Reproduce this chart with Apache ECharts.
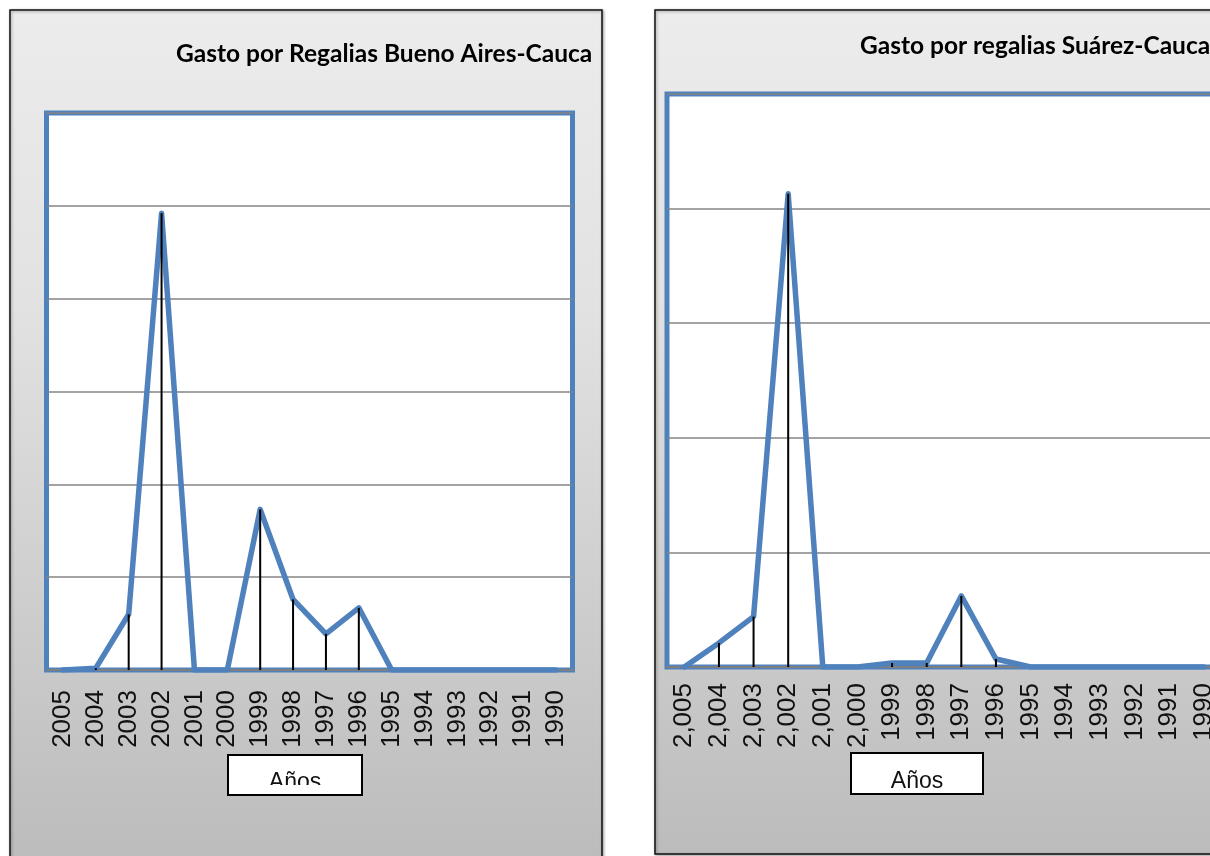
<!DOCTYPE html>
<html>
<head>
<meta charset="utf-8">
<script src="https://cdn.jsdelivr.net/npm/echarts@6/dist/echarts.min.js"></script>
<style>
html,body{margin:0;padding:0;background:#fff;}
#c{width:1210px;height:856px;}
</style>
</head>
<body>
<div id="c"></div>
<script>
// ---- Data ----
const yearsLeft = ['2005','2004','2003','2002','2001','2000','1999','1998','1997','1996','1995','1994','1993','1992','1991','1990'];
const valuesLeft = [0, 0.02, 0.60, 4.92, 0, 0, 1.73, 0.76, 0.39, 0.67, 0, 0, 0, 0, 0, 0];
const yearsRight = ['2,005','2,004','2,003','2,002','2,001','2,000','1999','1998','1997','1996','1995','1994','1993','1992','1991','1990'];
const valuesRight = [0, 0.21, 0.44, 4.13, 0, 0, 0.035, 0.035, 0.62, 0.07, 0, 0, 0, 0, 0, 0];
const titleLeft = 'Gasto por Regalias Bueno Aires-Cauca';
const titleRight = 'Gasto por regalias Suárez-Cauca';
const axisName = 'Años';

const BLUE = '#4F81BD';
const chart = echarts.init(document.getElementById('c'), null, {renderer: 'canvas'});

function panelRect(x, y, w, h) {
  return {
    type: 'rect', z: -20,
    shape: {x: x, y: y, width: w, height: h},
    style: {
      fill: new echarts.graphic.LinearGradient(0, 0, 0, 1, [
        {offset: 0, color: '#ececec'},
        {offset: 0.35, color: '#e2e2e2'},
        {offset: 1, color: '#bcbcbc'}
      ]),
      stroke: '#111', lineWidth: 1.5,
      shadowBlur: 3, shadowColor: 'rgba(0,0,0,0.35)', shadowOffsetX: 1, shadowOffsetY: 1
    }
  };
}
function nameBox(x, y, w, h, tx, ty, clip) {
  const els = [
    {type: 'rect', z: 20, shape: {x: x, y: y, width: w, height: h},
     style: {fill: '#fff', stroke: '#000', lineWidth: 2}},
    {type: 'text', z: 21, x: tx, y: ty,
     style: {text: axisName, font: '23px "Liberation Sans", Arial, sans-serif', fill: '#111',
             textAlign: 'center', textVerticalAlign: 'middle'}}
  ];
  if (clip) {
    els.push({type: 'rect', z: 22, shape: {x: x + 2, y: clip, width: w - 4, height: y + h - 1 - clip},
      style: {fill: '#fff'}});
  }
  return els;
}

function xAxisCfg(idx, data, margin) {
  return {
    type: 'category', gridIndex: idx, data: data, boundaryGap: true,
    axisLine: {show: true, lineStyle: {color: '#7f7f7f', width: 2}},
    axisTick: {show: false},
    axisLabel: {rotate: 90, margin: margin, interval: 0, color: '#111',
      fontFamily: '"Liberation Sans", Arial, sans-serif', fontSize: 26},
    splitLine: {show: false}
  };
}
function yAxisCfg(idx, max) {
  return {
    type: 'value', gridIndex: idx, min: 0, max: max, interval: 1,
    axisLine: {show: false}, axisTick: {show: false}, axisLabel: {show: false},
    splitLine: {show: true, lineStyle: {color: '#858585', width: 1.5}}
  };
}
function lineSeries(idx, data) {
  return {
    type: 'line', xAxisIndex: idx, yAxisIndex: idx, data: data,
    showSymbol: false, symbol: 'none', z: 2,
    lineStyle: {color: BLUE, width: 5.5, join: 'round', cap: 'round'}
  };
}
function dropSeries(idx, data) {
  return {
    type: 'bar', xAxisIndex: idx, yAxisIndex: idx, data: data,
    barWidth: 2, z: 3, silent: true,
    itemStyle: {color: '#000'}
  };
}

const titleFont = {fontFamily: 'Lato, "Open Sans", sans-serif', fontWeight: 'bold', fontSize: 24.5, color: '#000'};
const option = {
  animation: false,
  backgroundColor: '#fff',
  title: [
    {text: titleLeft, left: 176, top: 42, padding: 0, textStyle: titleFont},
    {text: titleRight, left: 860, top: 34, padding: 0, textStyle: titleFont}
  ],
  grid: [
    {left: 46.5, top: 113, width: 526, height: 557, show: true, backgroundColor: '#fff',
     borderColor: BLUE, borderWidth: 5, outerBoundsMode: 'none', containLabel: false},
    {left: 667, top: 94, width: 554, height: 573, show: true, backgroundColor: '#fff',
     borderColor: BLUE, borderWidth: 5, outerBoundsMode: 'none', containLabel: false}
  ],
  xAxis: [xAxisCfg(0, yearsLeft, 20), xAxisCfg(1, yearsRight, 16)],
  yAxis: [yAxisCfg(0, 6), yAxisCfg(1, 5)],
  series: [
    lineSeries(0, valuesLeft), dropSeries(0, valuesLeft),
    lineSeries(1, valuesRight), dropSeries(1, valuesRight)
  ],
  graphic: {elements: [
    panelRect(10, 10, 592, 850),
    panelRect(655, 10, 570, 844),
    ...nameBox(228, 755, 134, 40, 295, 783, 785),
    ...nameBox(851, 753, 132, 41, 917, 782, null)
  ]}
};
chart.setOption(option);
</script>
</body>
</html>
